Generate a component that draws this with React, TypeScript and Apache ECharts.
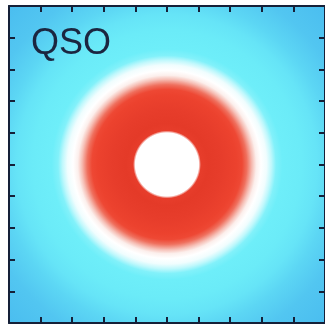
import React, { useEffect, useRef } from "react";
import * as echarts from "echarts";

// Radial profile (radius in axis units, value on a -1..1 diverging scale)
const profileRadius = [0, 2.0, 2.15, 2.6, 3.5, 4.4, 4.75, 5.05, 5.4, 5.65, 5.95, 6.3, 6.6, 6.9, 7.3, 8.5, 9.5, 10.5, 12.0, 14.5];
const profileValue = [0, 0, 0.85, 0.9, 0.85, 0.78, 0.72, 0.5, 0.25, 0.08, 0, -0.05, -0.2, -0.4, -0.5, -0.52, -0.56, -0.65, -0.78, -0.92];
const label = "QSO";

const colorStops: [number, [number, number, number]][] = [
  [-1.0, [68, 182, 238]],
  [-0.8, [80, 196, 240]],
  [-0.62, [94, 218, 245]],
  [-0.5, [110, 238, 249]],
  [-0.35, [140, 243, 250]],
  [-0.15, [210, 250, 252]],
  [0, [255, 255, 255]],
  [0.15, [250, 225, 220]],
  [0.35, [242, 160, 148]],
  [0.55, [238, 95, 75]],
  [0.75, [238, 68, 48]],
  [0.9, [228, 58, 40]],
  [1.0, [215, 50, 35]],
];

function rgb(c: number[]) {
  return `rgb(${Math.round(c[0])},${Math.round(c[1])},${Math.round(c[2])})`;
}
function col(v: number): string {
  if (v <= colorStops[0][0]) return rgb(colorStops[0][1]);
  for (let i = 1; i < colorStops.length; i++) {
    const [a, ca] = colorStops[i - 1];
    const [b, cb] = colorStops[i];
    if (v <= b) {
      const t = (v - a) / (b - a);
      return rgb([0, 1, 2].map((k) => ca[k] + (cb[k] - ca[k]) * t));
    }
  }
  return rgb(colorStops[colorStops.length - 1][1]);
}

export default function App() {
  const ref = useRef<HTMLDivElement>(null);
  useEffect(() => {
    if (!ref.current) return;
    const chart = echarts.init(ref.current, undefined, { renderer: "svg" });
    const segments: number[][] = [];
    for (let i = 0; i < profileRadius.length - 1; i++) {
      segments.push([profileRadius[i], profileRadius[i + 1], profileValue[i], profileValue[i + 1]]);
    }
    segments.reverse();
    const axisColor = "#152038";
    const axisCommon = {
      type: "value" as const,
      min: -10,
      max: 10,
      interval: 2,
      z: 10,
      axisLine: { show: true, onZero: false, lineStyle: { color: axisColor, width: 2 } },
      axisTick: { show: true, inside: true, length: 6, lineStyle: { color: axisColor, width: 2 } },
      axisLabel: { show: false },
      splitLine: { show: false },
    };
    chart.setOption({
      animation: false,
      grid: { left: 9, top: 6, width: 320, height: 317, show: true, backgroundColor: col(-0.92), borderWidth: 0 },
      xAxis: [
        { ...axisCommon, position: "bottom" },
        { ...axisCommon, position: "top" },
      ],
      yAxis: [
        { ...axisCommon, position: "left" },
        { ...axisCommon, position: "right" },
      ],
      series: [
        {
          type: "custom",
          clip: true,
          data: segments,
          renderItem: (params: any, api: any) => {
            const r0 = api.value(0);
            const r1 = api.value(1);
            const v0 = api.value(2);
            const v1 = api.value(3);
            const c = api.coord([0, 0]);
            const s1 = api.size([r1, 0])[0];
            const s0 = api.size([r0, 0])[0];
            const off = s1 > 0 ? s0 / s1 : 0;
            return {
              type: "circle",
              shape: { cx: c[0], cy: c[1], r: s1 },
              style: {
                fill: {
                  type: "radial",
                  x: 0.5,
                  y: 0.5,
                  r: 0.5,
                  colorStops: [
                    { offset: 0, color: col(v0) },
                    { offset: off, color: col(v0) },
                    { offset: 1, color: col(v1) },
                  ],
                },
              },
            };
          },
        },
      ],
      graphic: [
        {
          type: "text",
          left: 31,
          top: 23,
          z: 100,
          style: { text: label, fontSize: 36, fontFamily: "Liberation Sans", fill: "#1b2640" },
        },
      ],
    });
    return () => chart.dispose();
  }, []);
  return <div ref={ref} style={{ position: "fixed", left: 0, top: 0, width: 325, height: 325 }} />;
}
